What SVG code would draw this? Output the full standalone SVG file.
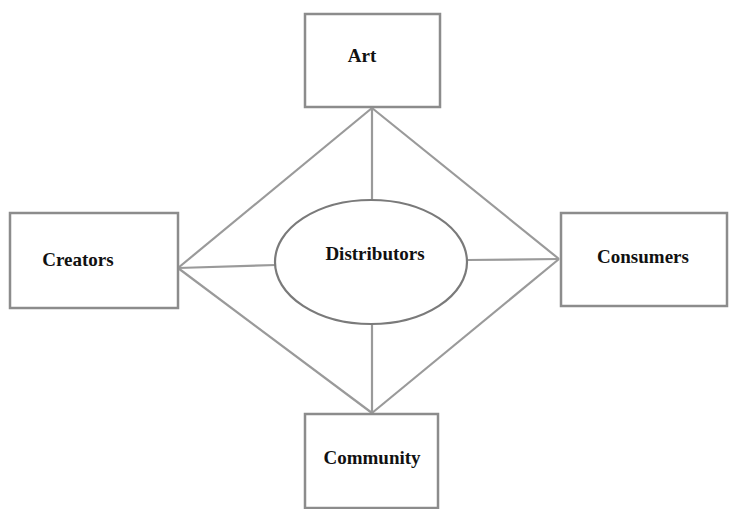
<svg xmlns="http://www.w3.org/2000/svg" width="729" height="509" viewBox="0 0 729 509">
<style>
.box{fill:#ffffff;stroke:#8c8c8c;stroke-width:2.5}
.ell{fill:#ffffff;stroke:#7a7a7a;stroke-width:2.2}
.lbl{font-family:"Liberation Serif","Times New Roman",serif;font-weight:bold;font-size:19px;fill:#111111;text-anchor:middle}
.conn line{stroke:#9a9a9a;stroke-width:2.2}
</style>
<rect width="729" height="509" fill="#ffffff"/>
<g id="connectors" class="conn">
<line x1="372" y1="108" x2="178" y2="268"/>
<line x1="372" y1="108" x2="559" y2="259"/>
<line x1="372" y1="413" x2="178" y2="268"/>
<line x1="372" y1="413" x2="559" y2="259"/>
<line x1="372" y1="108" x2="372" y2="200"/>
<line x1="372" y1="324" x2="372" y2="413"/>
<line x1="178" y1="268" x2="276" y2="265"/>
<line x1="467" y1="260" x2="559" y2="259"/>
</g>
<g id="art">
<rect class="box" x="305" y="14" width="135" height="93"/>
<text class="lbl" x="362" y="62">Art</text>
</g>
<g id="creators">
<rect class="box" x="10" y="213" width="168" height="95"/>
<text class="lbl" x="78" y="266">Creators</text>
</g>
<g id="consumers">
<rect class="box" x="561" y="213" width="166" height="93"/>
<text class="lbl" x="643" y="263">Consumers</text>
</g>
<g id="community">
<rect class="box" x="305" y="414" width="133" height="94"/>
<text class="lbl" x="372" y="464">Community</text>
</g>
<g id="distributors">
<ellipse class="ell" cx="371" cy="262" rx="96" ry="62"/>
<text class="lbl" x="375" y="260">Distributors</text>
</g>
</svg>
